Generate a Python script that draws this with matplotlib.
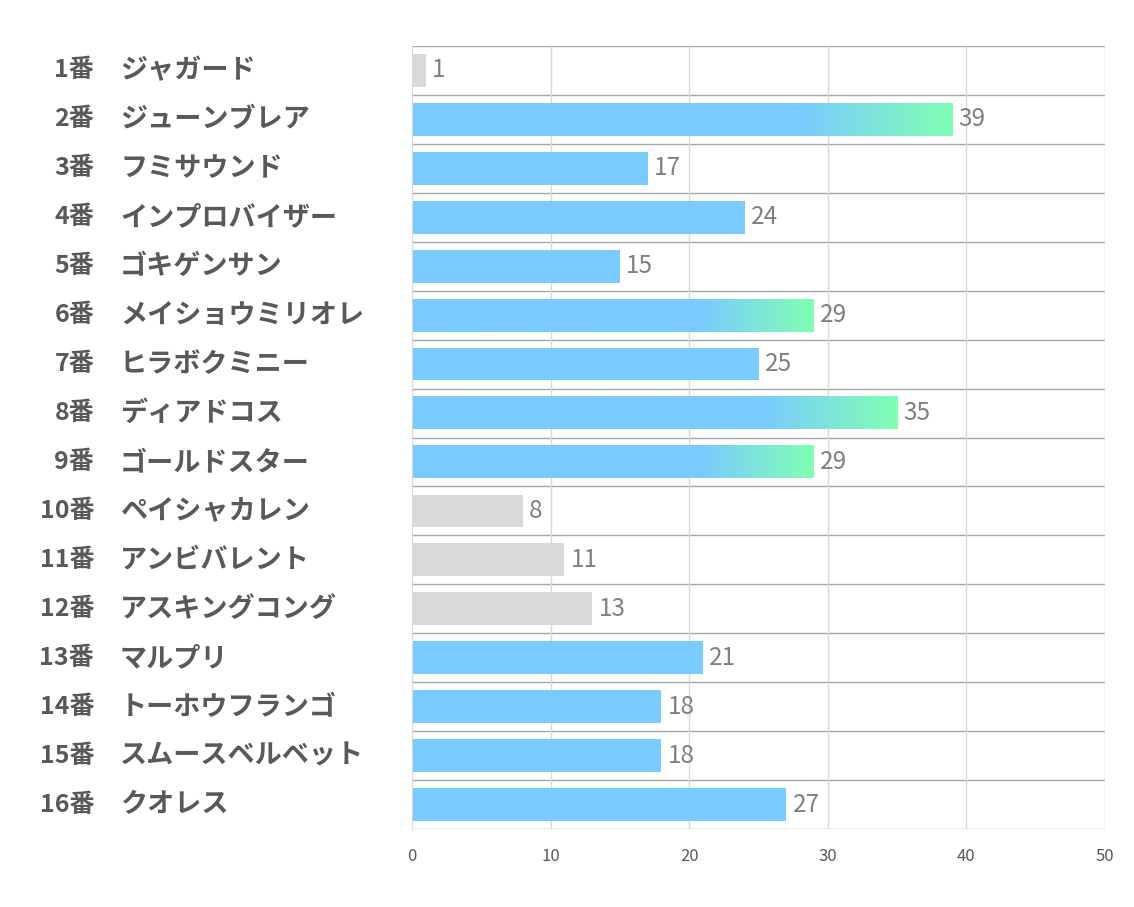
import numpy as np
import matplotlib
matplotlib.use("Agg")
import matplotlib.pyplot as plt
from matplotlib.colors import LinearSegmentedColormap
from matplotlib.transforms import blended_transform_factory

plt.rcParams["font.family"] = ["Noto Sans CJK JP", "DejaVu Sans"]

# data
NUMBERS = ["1番", "2番", "3番", "4番", "5番", "6番", "7番", "8番",
           "9番", "10番", "11番", "12番", "13番", "14番", "15番", "16番"]
NAMES = ["ジャガード", "ジューンブレア", "フミサウンド", "インプロバイザー",
         "ゴキゲンサン", "メイショウミリオレ", "ヒラボクミニー", "ディアドコス",
         "ゴールドスター", "ペイシャカレン", "アンビバレント", "アスキングコング",
         "マルプリ", "トーホウフランゴ", "スムースベルベット", "クオレス"]
VALUES = [1, 39, 17, 24, 15, 29, 25, 35, 29, 8, 11, 13, 21, 18, 18, 27]
XTICKS = [0, 10, 20, 30, 40, 50]

# styling groups (1-based row numbers)
GREY_ROWS = [1, 10, 11, 12]
GRAD_ROWS = [2, 6, 8, 9]

BLUE = "#7ACBFF"
GREEN = "#80FFB4"
GREY = "#D9D9D9"
grad_cmap = LinearSegmentedColormap.from_list(
    "bg", [(0.0, BLUE), (0.72, BLUE), (1.0, GREEN)])

fig = plt.figure(figsize=(11.34, 9.07), dpi=100)
ax = fig.add_axes([412 / 1134, 1 - 829 / 907, (1105 - 412) / 1134, (829 - 46) / 907])

n = len(VALUES)
bar_h = 0.67
for i, v in enumerate(VALUES):
    row = i + 1
    if row in GREY_ROWS:
        ax.barh(i, v, height=bar_h, color=GREY, zorder=2)
    elif row in GRAD_ROWS:
        grad = np.linspace(0, 1, 256).reshape(1, -1)
        ax.imshow(grad, cmap=grad_cmap, aspect="auto", zorder=2,
                  extent=[0, v, i + bar_h / 2, i - bar_h / 2])
    else:
        ax.barh(i, v, height=bar_h, color=BLUE, zorder=2)
    ax.annotate(str(v), (v, i), xytext=(4.5, 0), textcoords="offset points",
                va="center", ha="left", fontsize=17.5, color="#808080")

ax.set_xlim(0, 50)
ax.set_ylim(n - 0.5, -0.5)
ax.set_xticks(XTICKS)
ax.tick_params(axis="x", length=0, labelsize=12, labelcolor="#595959", pad=14)
ax.set_yticks([])

for b in np.arange(-0.5, n, 1.0):
    ax.axhline(b, color="#A6A6A6", lw=1.0, zorder=1)
for t in XTICKS[1:]:
    ax.axvline(t, color="#D9D9D9", lw=1.0, zorder=1)

for s in ["top", "bottom", "right"]:
    ax.spines[s].set_visible(False)
ax.spines["left"].set_color("#D9D9D9")

trans = blended_transform_factory(fig.transFigure, ax.transData)
for i in range(n):
    fig.text(94 / 1134, i, NUMBERS[i], transform=trans, ha="right", va="center",
             fontsize=18, fontweight="bold", color="#595959")
    fig.text(120 / 1134, i, NAMES[i], transform=trans, ha="left", va="center",
             fontsize=19.5, fontweight="bold", color="#595959")

fig.savefig("out.png", dpi=100, facecolor="white")
